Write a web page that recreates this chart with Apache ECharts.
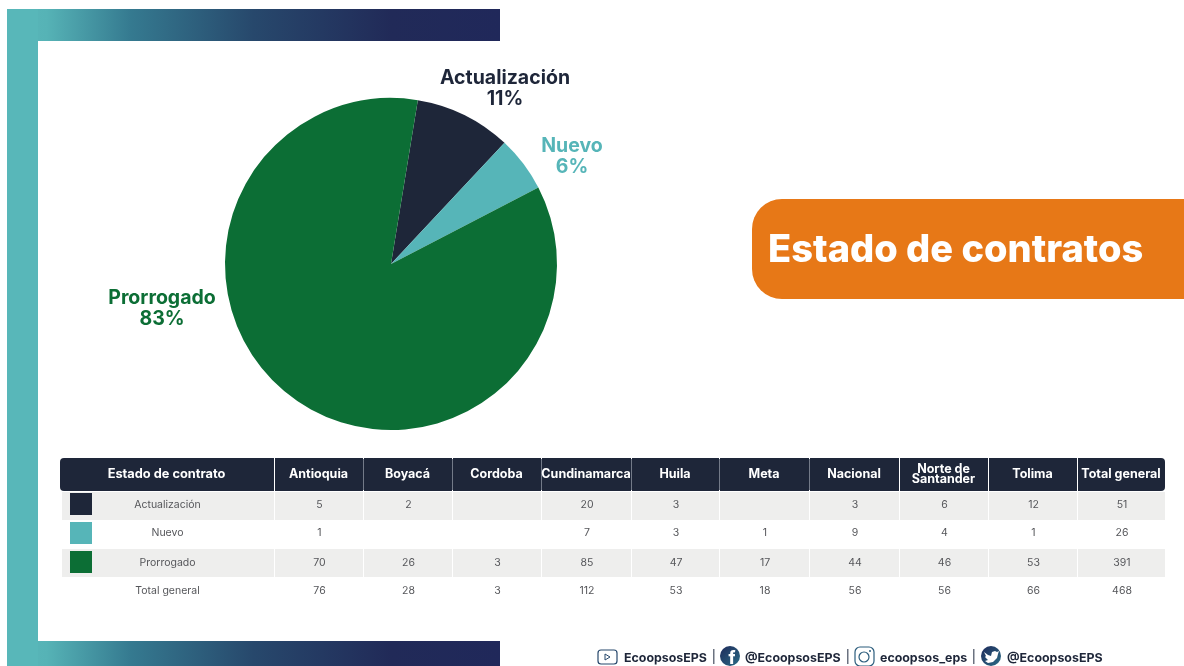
<!DOCTYPE html>
<html>
<head>
<meta charset="utf-8">
<style>
  html, body { margin: 0; padding: 0; background: #fff; }
  #main { width: 1184px; height: 666px; }
</style>
<script src="https://cdn.jsdelivr.net/npm/echarts@6/dist/echarts.min.js"></script>
</head>
<body>
<div id="main"></div>
<script>
const estados = ['Actualización', 'Nuevo', 'Prorrogado']
const porcentajes = ['11%', '6%', '83%']
// tamaño de cada porción medido sobre el dibujo (no sale exacto de los % impresos)
const porciones = [9.4, 5.4, 85.2]
const colores = ['#1E2639', '#56B5B8', '#0C6E35']

const columnas = ['Antioquia', 'Boyacá', 'Cordoba', 'Cundinamarca', 'Huila', 'Meta', 'Nacional', 'Norte de\nSantander', 'Tolima', 'Total general']
const actualizacion = [5, 2, null, 20, 3, null, 3, 6, 12, 51]
const nuevo = [1, null, null, 7, 3, 1, 9, 4, 1, 26]
const prorrogado = [70, 26, 3, 85, 47, 17, 44, 46, 53, 391]
const totalGeneral = [76, 28, 3, 112, 53, 18, 56, 56, 66, 468]

const redes = ['EcoopsosEPS', '@EcoopsosEPS', 'ecoopsos_eps', '@EcoopsosEPS']

const font = 'Inter'
const navy = '#1E2639'
const cortes = [60, 275, 364, 453, 542, 632, 720, 810, 900, 989, 1078, 1166]
const filasY = [491, 520, 548, 577, 605]
const textoY = [505, 533, 563, 591]

let myChart = echarts.init(document.getElementById('main'))
let g = []

function rect(x, y, w, h, fill, r) {
    g.push({ type: 'rect', silent: true, shape: { x: x, y: y, width: w, height: h, r: r || 0 }, style: { fill: fill } })
}
function text(x, y, s, size, weight, fill, extra) {
    g.push({
        type: 'text', silent: true, x: x, y: y,
        style: Object.assign({ text: s, font: weight + ' ' + size + 'px ' + font, fill: fill, align: 'center', verticalAlign: 'middle' }, extra || {})
    })
}

// marco
const degradado = new echarts.graphic.LinearGradient(0, 0, 1, 0, [
    { offset: 0, color: '#5AB8BA' },
    { offset: 0.08, color: '#56B3B6' },
    { offset: 0.25, color: '#357A90' },
    { offset: 0.5, color: '#27486C' },
    { offset: 0.78, color: '#212A58' },
    { offset: 1, color: '#20285A' }
])
rect(7, 9, 493, 32, degradado)
rect(7, 641, 493, 25, degradado)
rect(7, 9, 31, 657, '#58B7B9')

// titulo
rect(752, 199, 432, 100, '#E77817', [30, 0, 0, 30])
text(768, 251, 'Estado de contratos', 38, 800, '#fff', { align: 'left' })

// cabecera de la tabla
rect(275, 459, 624, 31, '#737A88')
rect(cortes[0], 458, cortes[1] - cortes[0] - 1, 33, navy, [4, 0, 0, 4])
text((cortes[0] + cortes[1]) / 2 - 1, 474, 'Estado de contrato', 12.8, 700, '#fff')
columnas.forEach(function (c, i) {
    let x0 = cortes[i + 1], x1 = cortes[i + 2]
    let r = i === columnas.length - 1 ? [0, 4, 4, 0] : 0
    rect(x0, 458, x1 - x0 - 1, 33, navy, r)
    text((x0 + x1) / 2 - 1, 474, c, 12.5, 700, '#fff', { lineHeight: 10 })
})

// filas
const filas = [actualizacion, nuevo, prorrogado, totalGeneral]
const nombres = estados.concat(['Total general'])
filas.forEach(function (fila, f) {
    let y0 = filasY[f], y1 = filasY[f + 1]
    if (f % 2 === 0) {
        rect(62, y0 + 1, cortes[1] - 63, y1 - y0 - 1, '#EEEEED')
        fila.forEach(function (v, i) {
            rect(cortes[i + 1], y0 + 1, cortes[i + 2] - cortes[i + 1] - 1, y1 - y0 - 1, '#EEEEED')
        })
    }
    if (f < 3) rect(70, [493, 522, 551][f], 22, 22, colores[f])
    text((cortes[0] + cortes[1]) / 2, textoY[f], nombres[f], 10.5, 400, '#55565A')
    fila.forEach(function (v, i) {
        if (v !== null) text((cortes[i + 1] + cortes[i + 2]) / 2, textoY[f], String(v), 10.5, 400, '#55565A')
    })
})

// redes
const redesX = [624, 745, 880, 1007]
const sepX = [713, 847, 973]
redes.forEach(function (r, i) {
    text(redesX[i], 658, r, 12.4, 700, navy, { align: 'left' })
})
sepX.forEach(function (x) { rect(x, 649, 1.5, 15, '#6B7280') })
const iconoGrad = new echarts.graphic.LinearGradient(0, 0, 1, 1, [
    { offset: 0, color: '#1E2A5A' },
    { offset: 1, color: '#2B6C86' }
])
// youtube
g.push({ type: 'rect', silent: true, shape: { x: 598, y: 650, width: 19, height: 14, r: 3 }, style: { fill: 'none', stroke: '#27486C', lineWidth: 1.2 } })
g.push({ type: 'polygon', silent: true, shape: { points: [[605, 654], [605, 660], [610, 657]] }, style: { fill: 'none', stroke: '#27486C', lineWidth: 1 } })
// facebook
g.push({ type: 'circle', silent: true, shape: { cx: 730, cy: 656, r: 10 }, style: { fill: iconoGrad } })
text(732, 659, 'f', 17, 800, '#fff')
// instagram
g.push({ type: 'rect', silent: true, shape: { x: 855, y: 647, width: 19, height: 19, r: 5 }, style: { fill: 'none', stroke: '#2B5C7C', lineWidth: 1.2 } })
g.push({ type: 'circle', silent: true, shape: { cx: 864, cy: 657, r: 5 }, style: { fill: 'none', stroke: '#2B5C7C', lineWidth: 1.2 } })
g.push({ type: 'circle', silent: true, shape: { cx: 870, cy: 651, r: 1 }, style: { fill: '#2B5C7C' } })
// twitter
g.push({ type: 'circle', silent: true, shape: { cx: 991, cy: 656, r: 10 }, style: { fill: iconoGrad } })
g.push({
    type: 'polygon', silent: true,
    shape: { points: [[984, 652], [988, 655], [991, 656], [992, 652], [995, 651], [997, 652], [999, 651], [998, 654], [997, 658], [993, 662], [988, 663], [985, 661], [988, 660], [985, 657], [986, 656]] },
    style: { fill: '#fff' }
})

const etiquetas = [[505, 89], [572, 157], [162, 309]]

let options = {
    animation: false,
    graphic: { elements: g },
    series: [{
        type: 'pie',
        silent: true,
        center: [391, 264],
        radius: [0, 166],
        startAngle: 80.7,
        clockwise: true,
        z: 5,
        itemStyle: { borderWidth: 0 },
        label: { show: true, position: 'outside', fontFamily: font, fontWeight: 700, fontSize: 19.5, lineHeight: 21, align: 'center' },
        labelLine: { show: false },
        labelLayout: function (params) {
            let p = etiquetas[params.dataIndex]
            return { x: p[0], y: p[1], align: 'center', verticalAlign: 'middle' }
        },
        data: estados.map(function (e, i) {
            return {
                name: e,
                value: porciones[i],
                itemStyle: { color: colores[i], borderWidth: 0 },
                label: { formatter: e + '\n' + porcentajes[i], color: colores[i] }
            }
        })
    }]
}

myChart.setOption(options)
</script>
</body>
</html>
